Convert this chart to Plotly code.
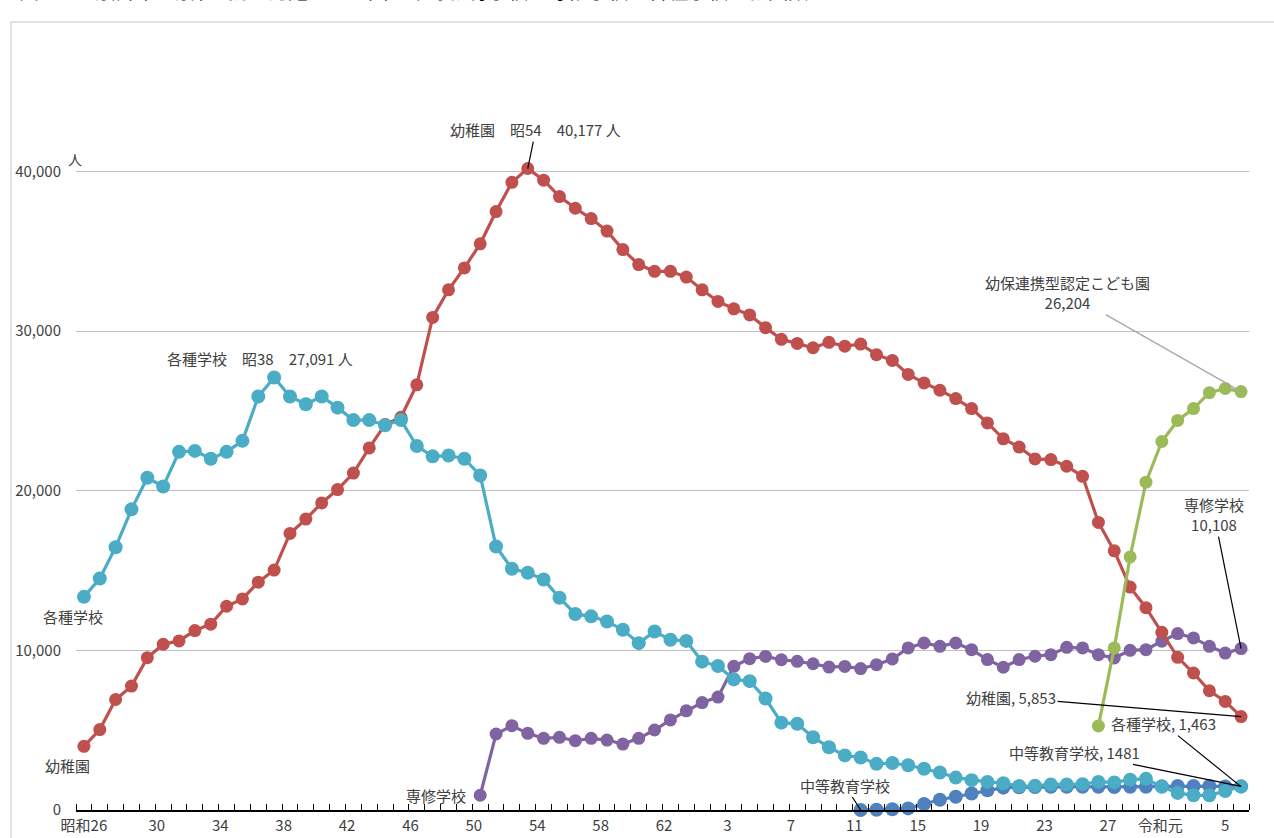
import plotly.graph_objects as go

# ---------------- data ----------------
years_all = list(range(1951, 2025))

kindergarten = [
    3990, 5040, 6920, 7760, 9540, 10380, 10590, 11240, 11640, 12760,      # 1951-1960
    13220, 14270, 15030, 17320, 18220, 19230, 20070, 21100, 22680, 24150, # 1961-1970
    24600, 26630, 30850, 32580, 33950, 35460, 37480, 39310, 40177, 39450, # 1971-1980
    38420, 37690, 37040, 36260, 35100, 34160, 33740, 33740, 33380, 32580, # 1981-1990
    31850, 31390, 31010, 30210, 29480, 29220, 28950, 29290, 29050, 29180, # 1991-2000
    28520, 28160, 27280, 26750, 26290, 25770, 25140, 24240, 23250, 22730, # 2001-2010
    21990, 21950, 21530, 20900, 18010, 16230, 13960, 12670, 11130, 9560,  # 2011-2020
    8580, 7470, 6800, 5853,                                               # 2021-2024
]

kakushu = [
    13350, 14500, 16460, 18830, 20810, 20260, 22430, 22490, 22000, 22430, # 1951-1960
    23120, 25900, 27091, 25900, 25410, 25900, 25200, 24420, 24420, 24100, # 1961-1970
    24420, 22800, 22150, 22200, 22000, 20950, 16500, 15110, 14860, 14440, # 1971-1980
    13290, 12280, 12130, 11810, 11290, 10450, 11180, 10660, 10590, 9290,  # 1981-1990
    9020, 8180, 8070, 6980, 5470, 5400, 4560, 3930, 3420, 3290,           # 1991-2000
    2890, 2940, 2800, 2580, 2350, 2030, 1870, 1760, 1680, 1500,           # 2001-2010
    1520, 1600, 1600, 1620, 1760, 1730, 1900, 1950, 1450, 1070,           # 2011-2020
    920, 920, 1190, 1463,                                                 # 2021-2024
]

senshu_start = 1976
senshu = [
    925, 4760, 5280, 4800, 4490, 4550, 4340, 4490, 4380, 4130,            # 1976-1985
    4490, 5010, 5640, 6210, 6730, 7070, 9000, 9480, 9620, 9410,           # 1986-1995
    9310, 9160, 8950, 8990, 8860, 9100, 9460, 10150, 10460, 10250,        # 1996-2005
    10460, 10040, 9420, 8940, 9420, 9630, 9730, 10190, 10150, 9730,       # 2006-2015
    9520, 10000, 10040, 10570, 11050, 10780, 10250, 9830, 10108,          # 2016-2024
]

kodomoen_start = 2015
kodomoen = [5260, 10150, 15850, 20530, 23080, 24400, 25140, 26140, 26400, 26204]

chuto_start = 2000
chuto = [
    0, 20, 50, 100, 380, 640, 830, 1030, 1240, 1400,                      # 2000-2009
    1420, 1440, 1450, 1450, 1460, 1450, 1440, 1450, 1460, 1480,           # 2010-2019
    1500, 1500, 1500, 1470, 1481,                                         # 2020-2024
]

tick_years = [1951, 1955, 1959, 1963, 1967, 1971, 1975, 1979, 1983, 1987,
              1991, 1995, 1999, 2003, 2007, 2011, 2015, 2019, 2023]
tick_labels = ["昭和26", "30", "34", "38", "42", "46", "50", "54", "58", "62",
               "3", "7", "11", "15", "19", "23", "27", "令和元", "5"]

y_ticks = [0, 10000, 20000, 30000, 40000]

# ---------------- styling ----------------
FONT = "Noto Sans CJK JP"
TXT = "#404040"
C_RED = "#C0504D"
C_CYAN = "#4BACC6"
C_PURPLE = "#8064A2"
C_GREEN = "#9BBB59"
C_BLUE = "#4F81BD"


def yrs(start, vals):
    return list(range(start, start + len(vals)))


fig = go.Figure()

series = [
    ("専修学校", yrs(senshu_start, senshu), senshu, C_PURPLE, 13),
    ("幼稚園", years_all, kindergarten, C_RED, 13),
    ("幼保連携型認定こども園", yrs(kodomoen_start, kodomoen), kodomoen, C_GREEN, 13),
    ("中等教育学校", yrs(chuto_start, chuto), chuto, C_BLUE, 14),
    ("各種学校", years_all, kakushu, C_CYAN, 14),
]
for name, xs, ys, col, ms in series:
    fig.add_trace(go.Scatter(
        x=xs, y=ys, name=name, mode="lines+markers",
        line=dict(color=col, width=3.2),
        marker=dict(color=col, size=ms),
        cliponaxis=False, showlegend=False,
    ))

# tick label placement (visual offsets as in the reference)
label_shift = [0.0] + [0.6] * 16 + [-0.1, 0.0]
tick_pos = [y + s for y, s in zip(tick_years, label_shift)]

fig.update_layout(
    width=1274, height=838,
    margin=dict(l=76, r=25, t=50, b=28),
    paper_bgcolor="white", plot_bgcolor="white",
    font=dict(family=FONT, size=15, color=TXT),
    showlegend=False,
    xaxis=dict(
        range=[1950.5, 2024.5],
        tickmode="array", tickvals=tick_pos, ticktext=tick_labels,
        ticks="", showgrid=False, zeroline=False, automargin=False,
        showline=True, linecolor="#000000", linewidth=1.5,
        ticklabelstandoff=1,
        tickfont=dict(family=FONT, size=15, color=TXT),
        minor=dict(ticks="inside", ticklen=6, tickwidth=1.3, tickcolor="#000000",
                   tickmode="linear", tick0=1950.5, dtick=1, showgrid=False),
    ),
    yaxis=dict(
        range=[0, 47600],
        tickmode="array", tickvals=y_ticks, tickformat=",d",
        showgrid=True, gridcolor="#BFBFBF", gridwidth=1,
        zeroline=False, showline=False, ticks="", automargin=False,
        ticklabelstandoff=14,
        tickfont=dict(family=FONT, size=15, color=TXT),
    ),
)

# chart-area border
fig.add_shape(type="rect", xref="paper", yref="paper",
              x0=-0.0554, x1=1.05, y0=-0.1, y1=1.0368,
              line=dict(color="#D9D9D9", width=1.5), fillcolor="rgba(0,0,0,0)", layer="below")

# title (clipped at the top edge, as in the reference)
fig.add_annotation(xref="paper", yref="paper", x=-0.05, y=1, xanchor="left", yanchor="bottom",
                   yshift=43, showarrow=False,
                   text="図1-1　幼稚園、幼保連携型認定こども園、中等教育学校、専修学校、各種学校の教員数",
                   font=dict(family=FONT, size=20, color="#000000"))

# unit
fig.add_annotation(xref="paper", yref="y", x=0, y=y_ticks[-1], xshift=-10, yshift=12,
                   text="人", showarrow=False, font=dict(size=14, color=TXT))

ann = dict(font=dict(family=FONT, size=15, color=TXT), arrowhead=0, arrowwidth=1.2,
           arrowcolor="#000000")
plain = dict(family=FONT, size=15, color=TXT)

# peak labels
i_k = kindergarten.index(max(kindergarten))
fig.add_annotation(x=years_all[i_k], y=kindergarten[i_k], ax=8, ay=-39, showarrow=True,
                   text="幼稚園　昭54　40,177 人", **ann)
i_c = kakushu.index(max(kakushu))
fig.add_annotation(x=years_all[i_c], y=kakushu[i_c], xshift=-14, yshift=19, showarrow=False,
                   text="各種学校　昭38　27,091 人", font=plain)

# start labels
fig.add_annotation(x=years_all[0], y=kakushu[0], xshift=-11, yshift=-20, showarrow=False,
                   text="各種学校", font=plain)
fig.add_annotation(x=years_all[0], y=kindergarten[0], xshift=-16, yshift=-19, showarrow=False,
                   text="幼稚園", font=plain)
fig.add_annotation(x=senshu_start, y=senshu[0], xshift=-44, yshift=0, showarrow=False,
                   text="専修学校", font=plain)
fig.add_annotation(x=chuto_start, y=chuto[0], ax=-16, ay=-25, showarrow=True,
                   text="中等教育学校", **ann)

# end labels
last = years_all[-1]
fig.add_annotation(x=last, y=kodomoen[-1], ax=-174, ay=-99, showarrow=True,
                   text="幼保連携型認定こども園<br>26,204",
                   font=plain, arrowhead=0, arrowwidth=1.2, arrowcolor="#A6A6A6")
fig.add_annotation(x=last, y=senshu[-1], ax=-27, ay=-134, showarrow=True,
                   text="専修学校<br>10,108", **ann)
fig.add_annotation(x=last, y=kindergarten[-1], ax=-230, ay=-19, showarrow=True,
                   text="幼稚園, 5,853", **ann)
fig.add_annotation(x=last, y=kakushu[-1], ax=-78, ay=-63, showarrow=True,
                   text="各種学校, 1,463", **ann)
fig.add_annotation(x=last, y=chuto[-1], ax=-167, ay=-34, showarrow=True,
                   text="中等教育学校, 1481", **ann)

fig.write_html("out.html", config={"displayModeBar": False},
               post_script="document.body.style.margin='0';")
